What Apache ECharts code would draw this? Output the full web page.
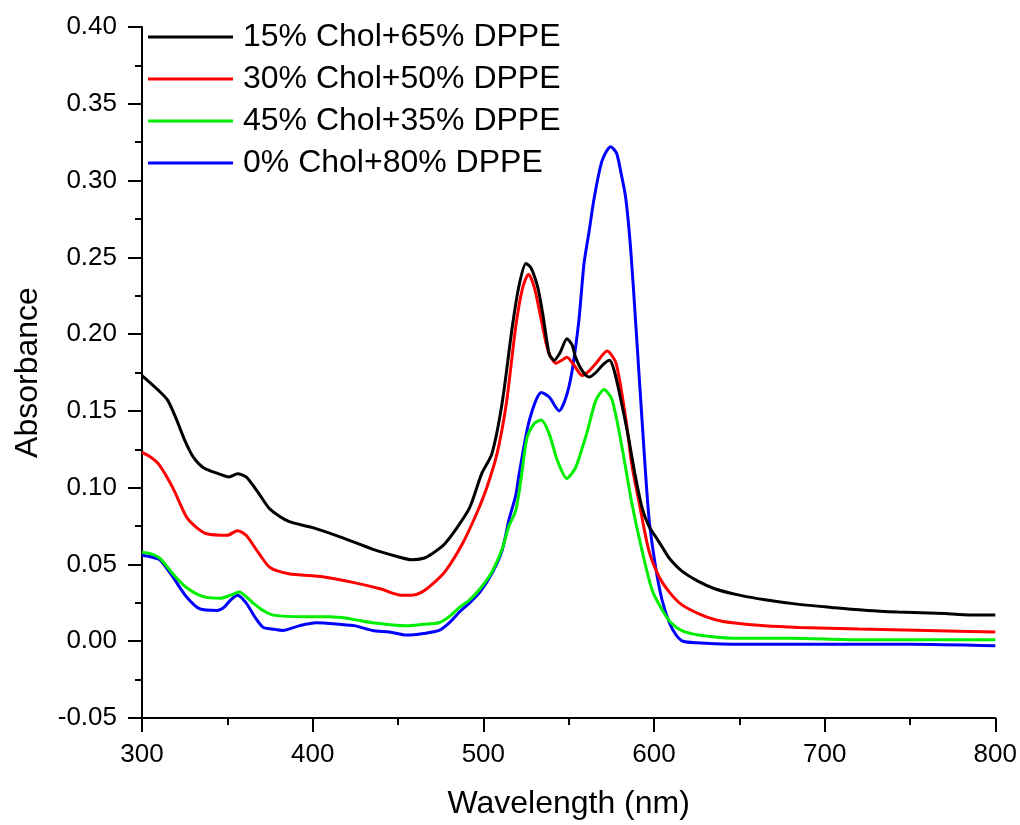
<!DOCTYPE html>
<html>
<head>
<meta charset="utf-8">
<script src="https://cdn.jsdelivr.net/npm/echarts@6/dist/echarts.min.js"></script>
<style>
html,body{margin:0;padding:0;background:#fff;}
#chart{width:1020px;height:825px;}
</style>
</head>
<body>
<div id="chart"></div>
<script>
const seriesNames = ['15% Chol+65% DPPE','30% Chol+50% DPPE','45% Chol+35% DPPE','0% Chol+80% DPPE'];
const seriesColors = ['#000000','#ff0000','#00ee00','#0000ff'];

const wlBlack = [300,310,315,320,325,330,336,345,351,356,361,368,375,386,400,416,435,450,458,465,470,477,484,492,499,505,511,517,521,525,528,532,535,538.6,541.5,545,549,552,554,558,562,566,570,574,577,581,585,589,593,597,601,605,609,616,626,636,650,665,685,704,725,743,770,790,800];
const absBlack = [0.173,0.163,0.157,0.145,0.131,0.120,0.113,0.109,0.107,0.109,0.107,0.097,0.086,0.078,0.074,0.068,0.060,0.055,0.053,0.054,0.057,0.063,0.073,0.087,0.109,0.122,0.155,0.205,0.232,0.246,0.243,0.230,0.212,0.187,0.183,0.188,0.197,0.193,0.185,0.176,0.172,0.175,0.180,0.183,0.175,0.155,0.133,0.108,0.087,0.075,0.068,0.061,0.054,0.046,0.039,0.034,0.030,0.027,0.024,0.022,0.020,0.019,0.018,0.017,0.017];

const wlRed = [300,305,310,318,326,332,338,350,356,361,368,375,386,406,425,440,452,458,464,471,478,488,496,502,508,513.5,519,523,526.5,530,534,538,542.7,546,549,553,558,562,566,572.5,577.8,583.6,587,591,597,603,609,616,626,636,646,665,685,720,760,800];
const absRed = [0.123,0.120,0.115,0.100,0.081,0.074,0.070,0.069,0.072,0.069,0.058,0.048,0.044,0.042,0.038,0.034,0.030,0.030,0.032,0.038,0.046,0.064,0.083,0.100,0.122,0.155,0.205,0.230,0.239,0.230,0.209,0.189,0.181,0.183,0.185,0.180,0.173,0.176,0.181,0.189,0.181,0.144,0.115,0.092,0.059,0.042,0.032,0.024,0.018,0.014,0.012,0.010,0.009,0.008,0.007,0.006];

const wlGreen = [300,305,310.5,318,326,336,346,352,357,361,365,371,377,396,410,420,435,455,465,474,480,486,492,498,505,511,515,519,522,525.7,530,534,538.6,543.3,549,554,558,561,566,570.8,575.5,581.3,587,593,599,605,610,616,626,646,680,720,760,800];
const absGreen = [0.058,0.057,0.054,0.044,0.035,0.029,0.028,0.030,0.032,0.029,0.025,0.020,0.017,0.016,0.016,0.015,0.012,0.010,0.011,0.012,0.016,0.022,0.027,0.034,0.045,0.060,0.075,0.085,0.105,0.133,0.142,0.144,0.135,0.118,0.106,0.113,0.126,0.137,0.157,0.164,0.157,0.126,0.090,0.059,0.033,0.020,0.012,0.007,0.004,0.002,0.002,0.001,0.001,0.001];

const wlBlue = [300,305,310.5,318,326,334,344,348,352,356,361,366,371,376,382.5,392,402,416,425,435,445,455,465,474,480,486,492,498,505,511,515,519,521,527,534,538.6,544.4,548.5,552,556,559,562,565,569.6,574.6,578,580.5,583.4,586.3,589.3,593,597,601,604.7,609,613,617,625,650,700,750,800];
const absBlue = [0.056,0.055,0.053,0.042,0.029,0.021,0.020,0.022,0.027,0.030,0.025,0.016,0.009,0.008,0.007,0.010,0.012,0.011,0.010,0.007,0.006,0.004,0.005,0.007,0.012,0.019,0.025,0.032,0.044,0.059,0.079,0.095,0.109,0.144,0.162,0.159,0.150,0.159,0.176,0.209,0.246,0.267,0.289,0.313,0.322,0.318,0.306,0.289,0.256,0.207,0.144,0.081,0.048,0.027,0.012,0.004,0.000,-0.001,-0.002,-0.002,-0.002,-0.003];

const xTicks = [300,400,500,600,700,800];
const yTicks = [-0.05,0,0.05,0.10,0.15,0.20,0.25,0.30,0.35,0.40];

function zip(a,b){return a.map((v,i)=>[v,b[i]]);}
const allData = [zip(wlBlack,absBlack),zip(wlRed,absRed),zip(wlGreen,absGreen),zip(wlBlue,absBlue)];

const font = 'Liberation Sans, Arial, sans-serif';
const chart = echarts.init(document.getElementById('chart'), null, {renderer:'canvas'});
chart.setOption({
  animation:false,
  backgroundColor:'#ffffff',
  grid:{left:142,right:23,top:27,bottom:106,containLabel:false},
  legend:{
    orient:'vertical', left:148, top:21, padding:0, itemWidth:85, itemHeight:3, itemGap:10,
    icon:'rect',
    textStyle:{fontFamily:font,fontSize:32,color:'#000',lineHeight:32,padding:[0,0,0,5]},
    data:seriesNames
  },
  xAxis:{
    type:'value', min:xTicks[0], max:xTicks[xTicks.length-1], interval:100,
    name:'Wavelength (nm)', nameLocation:'middle', nameGap:70,
    nameTextStyle:{fontFamily:font,fontSize:32,color:'#000'},
    axisLine:{show:true,onZero:false,lineStyle:{color:'#000',width:2}},
    axisTick:{show:true,inside:false,length:14,lineStyle:{color:'#000',width:2}},
    minorTick:{show:true,splitNumber:2,length:7,lineStyle:{color:'#000',width:2}},
    axisLabel:{fontFamily:font,fontSize:26,color:'#000',margin:24},
    splitLine:{show:false}
  },
  yAxis:{
    type:'value', min:yTicks[0], max:yTicks[yTicks.length-1], interval:0.05,
    name:'Absorbance', nameLocation:'middle', nameGap:98,
    nameTextStyle:{fontFamily:font,fontSize:32,color:'#000'},
    axisLine:{show:true,onZero:false,lineStyle:{color:'#000',width:2}},
    axisTick:{show:true,inside:false,length:14,lineStyle:{color:'#000',width:2}},
    minorTick:{show:true,splitNumber:2,length:7,lineStyle:{color:'#000',width:2}},
    axisLabel:{fontFamily:font,fontSize:26,color:'#000',margin:25,
      formatter:v=>v.toFixed(2)},
    splitLine:{show:false}
  },
  series: seriesNames.map((n,i)=>({
    name:n, type:'line', data:allData[i], showSymbol:false, symbol:'none',
    smooth:0.25, color:seriesColors[i],
    lineStyle:{color:seriesColors[i],width:3},
    itemStyle:{color:seriesColors[i]},
    z: 10-i
  }))
});
</script>
</body>
</html>
